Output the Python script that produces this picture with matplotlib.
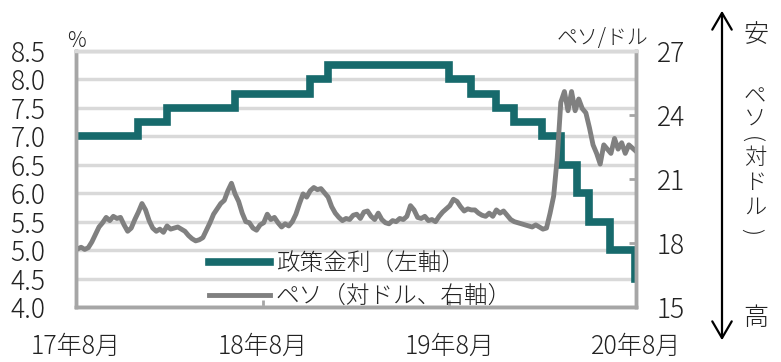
import matplotlib
matplotlib.use('Agg')
import matplotlib.pyplot as plt
from matplotlib.patches import FancyArrowPatch
import pandas as pd

plt.rcParams['font.family'] = ['Noto Sans CJK JP', 'DejaVu Sans']
plt.rcParams['font.weight'] = 'light'

# 政策金利（%）
rate_dates = ['2017-08-15', '2017-12-14', '2018-02-08', '2018-06-21', '2018-11-15',
              '2018-12-20', '2019-08-15', '2019-09-26', '2019-11-14', '2019-12-19',
              '2020-02-13', '2020-03-20', '2020-04-21', '2020-05-14', '2020-06-25',
              '2020-08-13', '2020-08-14']
rate = [7.00, 7.25, 7.50, 7.75, 8.00, 8.25, 8.00, 7.75, 7.50, 7.25,
        7.00, 6.50, 6.00, 5.50, 5.00, 4.50, 4.50]

# ペソ（対ドル）週次
peso_start = '2017-08-18'
peso = [
    17.72, 17.80,
    17.70, 17.78, 18.05, 18.40, 18.75,
    18.95, 19.20, 19.05, 19.25,
    19.15, 19.20, 18.85, 18.55,
    18.70, 19.10, 19.45, 19.85, 19.55,
    19.05, 18.70, 18.55, 18.65,
    18.50, 18.80, 18.65, 18.70,
    18.75, 18.65, 18.55, 18.35, 18.20,
    18.10, 18.15, 18.25, 18.60,
    18.95, 19.35, 19.60, 19.85,
    20.00, 20.45, 20.80, 20.30, 19.95,
    19.40, 19.00, 18.95, 18.70,
    18.60, 18.85, 18.95, 19.35, 19.10,
    19.20, 18.95, 18.75, 18.90,
    18.80, 19.00, 19.35, 19.85,
    20.30, 20.15, 20.45, 20.60, 20.50,
    20.55, 20.35, 20.15, 19.70,
    19.40, 19.20, 19.05, 19.15,
    19.10, 19.30, 19.35, 19.15,
    19.45, 19.50, 19.25, 19.10, 19.40,
    19.10, 18.95, 18.90, 19.05,
    19.00, 19.15, 19.10, 19.25, 19.75,
    19.55, 19.20, 19.15, 19.25,
    19.05, 19.10, 19.00, 19.25,
    19.45, 19.60, 19.75, 20.05, 19.95,
    19.70, 19.50, 19.60, 19.55,
    19.55, 19.40, 19.30, 19.25,
    19.40, 19.25, 19.55, 19.40, 19.50,
    19.30, 19.10, 19.00, 18.95,
    18.90, 18.85, 18.80, 18.75, 18.85,
    18.75, 18.65, 18.70, 19.40,
    20.20, 22.00, 24.60, 25.10,
    24.20, 25.10, 24.20, 24.75,
    24.30, 24.10, 23.40, 22.60, 22.20,
    21.70, 22.60, 22.40, 22.20,
    22.90, 22.40, 22.70, 22.20, 22.60,
    22.45, 22.30,
]

xtick_dates = ['2017-08-15', '2018-08-15', '2019-08-15', '2020-08-14']
xtick_labels = ['17年8月', '18年8月', '19年8月', '20年8月']
left_ticks = [4.0, 4.5, 5.0, 5.5, 6.0, 6.5, 7.0, 7.5, 8.0, 8.5]
right_ticks = [15, 18, 21, 24, 27]

teal = '#176a6c'
gray_line = '#808080'
spine_c = '#a6a6a6'
grid_c = '#d9d9d9'
txt_c = '#222222'

rd = pd.to_datetime(rate_dates)
pd_dates = pd.date_range(peso_start, periods=len(peso), freq='W-FRI')

fig = plt.figure(figsize=(7.81, 3.62), dpi=100)
ax = fig.add_axes([76/781, 1-307/362, 560/781, 256/362])
ax2 = ax.twinx()

l1, = ax.plot(rd, rate, drawstyle='steps-post', color=teal, lw=5.5,
              solid_joinstyle='miter', label='政策金利（左軸）')
l2, = ax2.plot(pd_dates, peso, color=gray_line, lw=3.5, label='ペソ（対ドル、右軸）')

ax.set_ylim(4.0, 8.5)
ax2.set_ylim(15, 27)
ax.set_xlim(pd.Timestamp('2017-08-15'), pd.Timestamp('2020-08-14'))
ax.set_yticks(left_ticks)
ax.set_yticklabels([f'{v:.1f}' for v in left_ticks])
ax2.set_yticks(right_ticks)
ax.set_xticks(pd.to_datetime(xtick_dates))
ax.set_xticklabels(xtick_labels)

ax.grid(axis='y', color=grid_c, lw=2.5)
ax.set_axisbelow(True)
for a in (ax, ax2):
    for s in a.spines.values():
        s.set_color(spine_c)
        s.set_linewidth(2.5)
    a.spines['top'].set_color(grid_c)
ax.tick_params(axis='y', direction='in', length=0, pad=22, labelsize=19,
               labelcolor=txt_c)
ax.tick_params(axis='x', direction='in', length=5, width=2, color=spine_c,
               pad=19, labelsize=18, labelcolor=txt_c)
ax2.tick_params(axis='y', direction='in', length=5, width=2, color=spine_c,
                pad=15, labelsize=19, labelcolor=txt_c)

leg = ax2.legend(handles=[l1, l2], loc='lower left', bbox_to_anchor=(0.22, -0.045),
                 frameon=False, fontsize=17, handlelength=2.6, handletextpad=0.25,
                 labelspacing=0.34, borderaxespad=0)
for t in leg.get_texts():
    t.set_color(txt_c)

fig.text(76/781, 1-41/362, '%', ha='center', va='center', fontsize=15, color=txt_c)
fig.text(603/781, 1-38/362, 'ペソ/ドル', ha='center', va='center', fontsize=15, color=txt_c)

# 右側の矢印と注記
fig.add_artist(FancyArrowPatch(
    (722/781, 1-343/362), (722/781, 1-8/362), transform=fig.transFigure,
    arrowstyle='<->,head_length=0.6,head_width=0.35', mutation_scale=20,
    color='black', lw=1.6))
fig.text(756/781, 1-35/362, '安', ha='center', va='center', fontsize=18, color=txt_c)
fig.text(756/781, 1-318/362, '高', ha='center', va='center', fontsize=18, color=txt_c)
for ch, xx, yy, rot in [('ペ', 755, 97, 0), ('ソ', 755, 120, 0), ('(', 750, 139, -90),
                        ('対', 755, 158, 0), ('ド', 755, 183, 0), ('ル', 755, 208, 0),
                        (')', 750, 231, -90)]:
    fig.text(xx/781, 1-yy/362, ch, ha='center', va='center', fontsize=16,
             color=txt_c, rotation=rot)

fig.savefig('out.png', dpi=100)
